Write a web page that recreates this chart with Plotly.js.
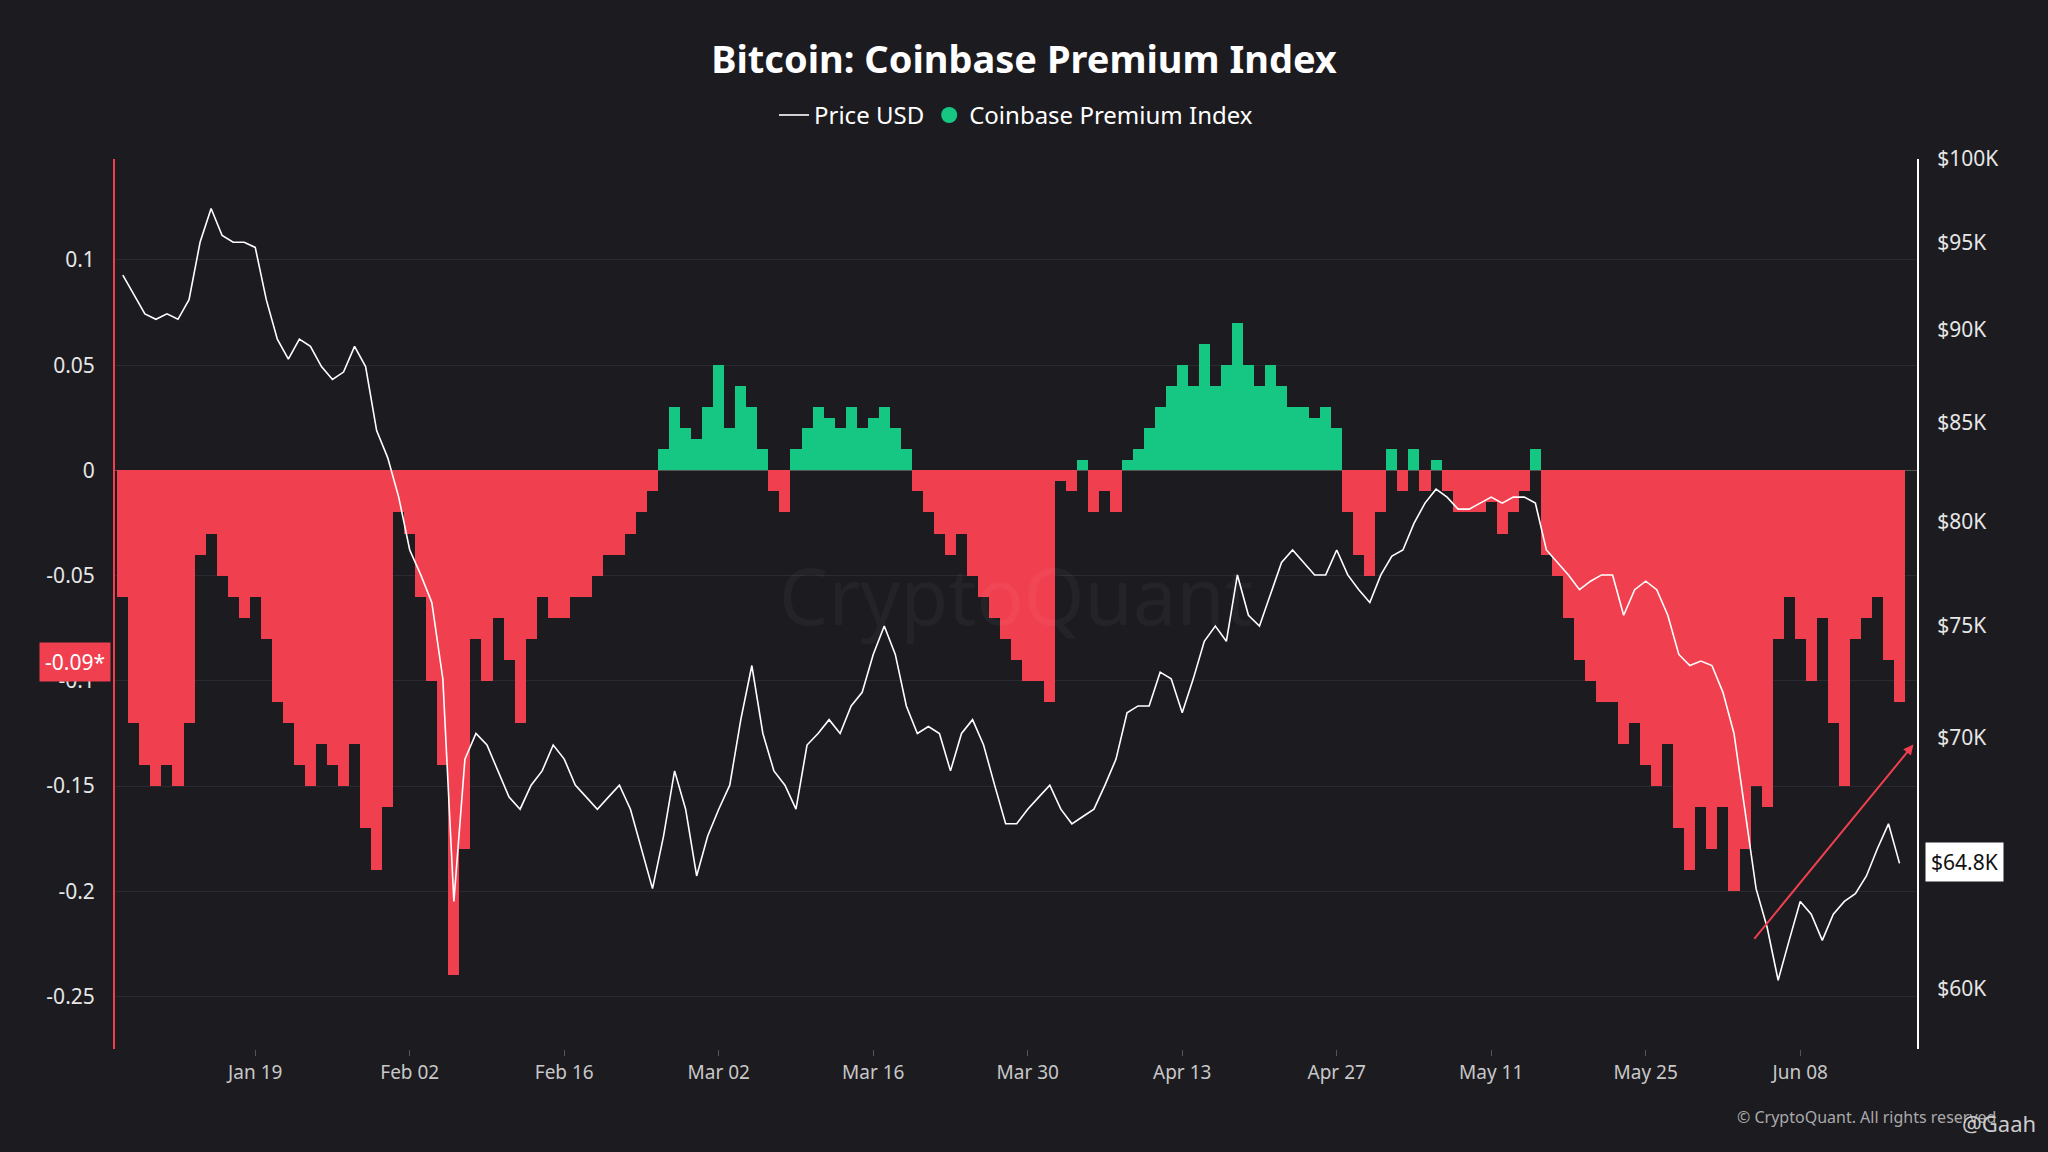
<!DOCTYPE html>
<html><head><meta charset="utf-8">
<script src="https://cdn.plot.ly/plotly-3.0.1.min.js"></script>
<style>html,body{margin:0;padding:0;background:#1c1b20;}#c{width:2048px;height:1152px;}</style>
</head><body><div id="c"></div>
<script>
const startDate = '2026-01-07';
// Daily BTC price (thousand USD), Jan 7 .. Jun 17
const priceK = [
93.1,92.0,90.9,90.6,90.9,90.6,91.7,95.0,97.0,95.4,95.0,95.0,94.7,91.7,89.5,88.4,89.5,89.1,88.0,87.3,87.7,89.1,88.0,84.6,83.2,81.2,78.6,77.4,76.1,72.6,63.3,69.1,70.2,69.7,68.6,67.5,67.0,68.0,68.6,69.7,69.1,68.0,67.5,67.0,67.5,68.0,67.0,65.4,63.8,65.9,68.6,67.0,64.3,65.9,67.0,68.0,70.8,73.2,70.2,68.6,68.0,67.0,69.7,70.2,70.8,70.2,71.4,72.0,73.7,75.0,73.7,71.4,70.2,70.5,70.2,68.6,70.2,70.8,69.7,68.0,66.4,66.4,67.0,67.5,68.0,67.0,66.4,66.7,67.0,68.0,69.1,71.1,71.4,71.4,72.9,72.6,71.1,72.6,74.3,75.0,74.3,77.4,75.5,75.0,76.5,78.0,78.6,78.0,77.4,77.4,78.6,77.4,76.7,76.1,77.4,78.3,78.6,79.9,80.9,81.6,81.2,80.6,80.6,80.9,81.2,80.9,81.2,81.2,80.9,78.6,78.0,77.4,76.7,77.1,77.4,77.4,75.5,76.7,77.1,76.7,75.5,73.7,73.2,73.4,73.2,72.0,70.2,67.0,63.8,62.3,60.3,61.8,63.3,62.8,61.8,62.8,63.3,63.6,64.3,65.4,66.4,64.8
];
// Daily Coinbase Premium Index
const premium = [
-0.06,-0.12,-0.14,-0.15,-0.14,-0.15,-0.12,-0.04,-0.03,-0.05,-0.06,-0.07,-0.06,-0.08,-0.11,-0.12,-0.14,-0.15,-0.13,-0.14,-0.15,-0.13,-0.17,-0.19,-0.16,-0.02,-0.03,-0.06,-0.10,-0.14,-0.24,-0.18,-0.08,-0.10,-0.07,-0.09,-0.12,-0.08,-0.06,-0.07,-0.07,-0.06,-0.06,-0.05,-0.04,-0.04,-0.03,-0.02,-0.01,0.01,0.03,0.02,0.015,0.03,0.05,0.02,0.04,0.03,0.01,-0.01,-0.02,0.01,0.02,0.03,0.025,0.02,0.03,0.02,0.025,0.03,0.02,0.01,-0.01,-0.02,-0.03,-0.04,-0.03,-0.05,-0.06,-0.07,-0.08,-0.09,-0.10,-0.10,-0.11,-0.005,-0.01,0.005,-0.02,-0.01,-0.02,0.005,0.01,0.02,0.03,0.04,0.05,0.04,0.06,0.04,0.05,0.07,0.05,0.04,0.05,0.04,0.03,0.03,0.025,0.03,0.02,-0.02,-0.04,-0.05,-0.02,0.01,-0.01,0.01,-0.01,0.005,-0.01,-0.02,-0.02,-0.02,-0.015,-0.03,-0.02,-0.01,0.01,-0.04,-0.05,-0.07,-0.09,-0.10,-0.11,-0.11,-0.13,-0.12,-0.14,-0.15,-0.13,-0.17,-0.19,-0.16,-0.18,-0.16,-0.20,-0.18,-0.15,-0.16,-0.08,-0.06,-0.08,-0.10,-0.07,-0.12,-0.15,-0.08,-0.07,-0.06,-0.09,-0.11
];
const premTicks = [0.1,0.05,0,-0.05,-0.1,-0.15,-0.2,-0.25];
const premTickText = ['0.1','0.05','0','-0.05','-0.1','-0.15','-0.2','-0.25'];
const priceTicks = [60,70,75,80,85,90,95,100];
const priceTickText = ['$60K','$70K','$75K','$80K','$85K','$90K','$95K','$100K'];

const dates = [];
const d0 = new Date(startDate + 'T00:00:00Z');
for (let i = 0; i < premium.length; i++) {
  const d = new Date(d0.getTime() + i * 86400000);
  dates.push(d.toISOString().slice(0, 10));
}
const GREEN = '#16c784', RED = '#f0404f';
const colors = premium.map(v => v >= 0 ? GREEN : RED);

const traces = [
  {x: dates, y: premium, type: 'bar', marker: {color: colors, line: {width: 0}}, yaxis: 'y', showlegend: false, name: 'Coinbase Premium Index'},
  {x: dates, y: priceK, type: 'scatter', mode: 'lines', line: {color: '#ffffff', width: 1.6}, yaxis: 'y2', name: 'Price USD'},
  {x: [null], y: [null], type: 'scatter', mode: 'markers', marker: {color: GREEN, size: 22, symbol: 'circle'}, name: 'Coinbase Premium Index'}
];
const tickFont = {family: 'Noto Sans, sans-serif', size: 21, color: '#e6e6e6'};
const layout = {
  width: 2048, height: 1152,
  paper_bgcolor: '#1c1b20', plot_bgcolor: '#1c1b20',
  margin: {l: 115, r: 131, t: 159, b: 103},
  bargap: 0,
  font: {family: 'Noto Sans, sans-serif', color: '#e6e6e6'},
  title: {text: '<b>Bitcoin: Coinbase Premium Index</b>', x: 0.5, xanchor: 'center', y: 0.948, yanchor: 'middle', font: {size: 38, color: '#ffffff'}},
  legend: {orientation: 'h', x: 0.5, xanchor: 'center', y: 1.049, yanchor: 'middle', font: {size: 24, color: '#ffffff'}, bgcolor: 'rgba(0,0,0,0)'},
  xaxis: {type: 'date', range: ['2026-01-06 07:00', '2026-06-18 14:00'], tick0: '2026-01-19', dtick: 14 * 86400000, tickformat: '%b %d', tickfont: {size: 19, color: '#c8c8c8'}, showgrid: false, ticks: 'outside', ticklen: 6, tickcolor: '#555', showline: false, zeroline: false},
  yaxis: {range: [-0.275, 0.148], tickvals: premTicks, ticktext: premTickText, tickfont: tickFont, showgrid: true, gridcolor: '#2a2a30', zeroline: true, zerolinecolor: '#555', showline: true, linecolor: RED, linewidth: 2, ticks: '', ticklabelstandoff: 14},
  yaxis2: {overlaying: 'y', side: 'right', type: 'log', range: [Math.log10(57.8), 2], tickvals: priceTicks, ticktext: priceTickText, tickfont: tickFont, showgrid: false, zeroline: false, showline: true, linecolor: '#ffffff', linewidth: 2, ticklabelstandoff: 14},
  annotations: [
    {xref: 'paper', yref: 'paper', x: 0.998, y: 0.342, ax: 0.909, ay: 0.122, axref: 'paper', ayref: 'paper', showarrow: true, arrowhead: 2, arrowsize: 1, arrowwidth: 2, arrowcolor: '#f0404f', text: ''},
    {xref: 'paper', yref: 'y', x: 0, xanchor: 'right', y: -0.0913, yanchor: 'middle', text: '-0.09*', showarrow: false, bgcolor: RED, font: {size: 21, color: '#ffffff'}, borderpad: 5, xshift: -4},
    {xref: 'paper', yref: 'paper', x: 1, xanchor: 'left', y: 0.21, yanchor: 'middle', text: '$64.8K', showarrow: false, bgcolor: '#ffffff', font: {size: 21, color: '#111'}, borderpad: 5, xshift: 8},
    {xref: 'paper', yref: 'paper', x: 0.5, y: 0.51, yanchor: 'middle', text: 'CryptoQuant', showarrow: false, font: {size: 78, color: 'rgba(255,255,255,0.035)'}},
    {xref: 'paper', yref: 'paper', x: 1.045, xanchor: 'right', y: -0.076, yanchor: 'middle', text: '© CryptoQuant. All rights reserved', showarrow: false, font: {size: 16, color: '#aaaaaa'}},
    {xref: 'paper', yref: 'paper', x: 1.067, xanchor: 'right', y: -0.083, yanchor: 'middle', text: '@Gaah', showarrow: false, font: {size: 22, color: '#cccccc'}}
  ]
};
Plotly.newPlot('c', traces, layout, {displayModeBar: false, staticPlot: true});
</script></body></html>
